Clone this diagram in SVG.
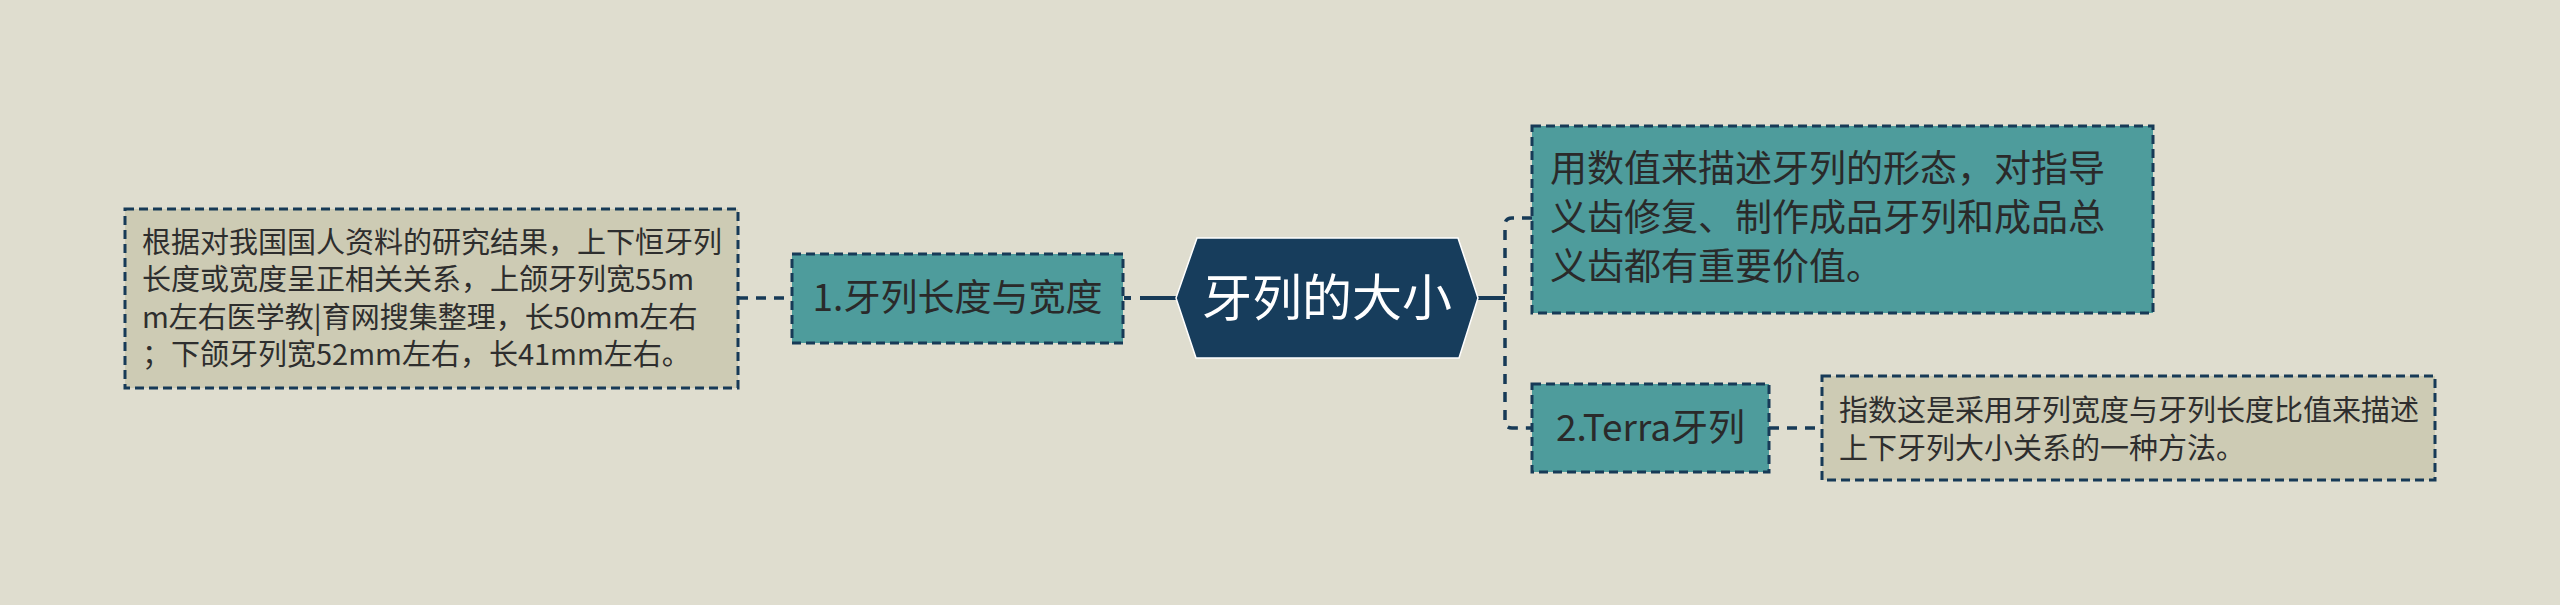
<svg xmlns="http://www.w3.org/2000/svg" width="2560" height="605" viewBox="0 0 2560 605">
<style>
text{font-family:"Noto Sans CJK SC","Noto Sans",sans-serif;}
.box{stroke:#173a57;stroke-width:3;stroke-dasharray:9 5;}
.teal{fill:#4e9c9c;}
.beige{fill:#cdcbb4;}
.t37{font-size:37px;fill:#2a2a2a;}
.t29{font-size:29px;fill:#2e2e2e;}
.conn{fill:none;stroke:#173a57;stroke-width:4;}
.dash{stroke-dasharray:10 8;stroke-width:3.5;}
</style>
<rect width="2560" height="605" fill="#dfddcf"/>
<g id="connectors">
<path class="conn dash" d="M738,298 H791"/>
<path class="conn" d="M1124,298 H1131 M1140,298 H1177"/>
<path class="conn" d="M1478,298 H1505"/>
<path class="conn dash" d="M1532,218 H1512 Q1505,218 1505,225 V421 Q1505,428 1512,428 H1531"/>
<path class="conn dash" d="M1769,428 H1822"/>
</g>
<g id="center">
<polygon points="1176,298 1197,238 1458,238 1478,298 1459,358 1196,358" fill="#173d5c" stroke="#ffffff" stroke-width="1.5"/>
<text x="1327" y="316" font-size="50" fill="#ffffff" text-anchor="middle">牙列的大小</text>
</g>
<g id="node1">
<rect class="box teal" x="792" y="254" width="331" height="89"/>
<text class="t37" x="957.5" y="311" text-anchor="middle">1.牙列长度与宽度</text>
</g>
<g id="detail1">
<rect class="box beige" x="125" y="209" width="613" height="179"/>
<text class="t29" x="142" y="253">根据对我国国人资料的研究结果，上下恒牙列</text>
<text class="t29" x="142" y="290">长度或宽度呈正相关关系，上颌牙列宽55m</text>
<text class="t29" x="142" y="328">m左右医学教|育网搜集整理，长50mm左右</text>
<text class="t29" x="142" y="365">；下颌牙列宽52mm左右，长41mm左右。</text>
</g>
<g id="detail0">
<rect class="box teal" x="1532" y="126" width="621" height="187"/>
<text class="t37" x="1550" y="182">用数值来描述牙列的形态，对指导</text>
<text class="t37" x="1550" y="231">义齿修复、制作成品牙列和成品总</text>
<text class="t37" x="1550" y="280">义齿都有重要价值。</text>
</g>
<g id="node2">
<rect class="box teal" x="1532" y="384" width="237" height="88"/>
<text class="t37" x="1650.5" y="441" text-anchor="middle">2.Terra牙列</text>
</g>
<g id="detail2">
<rect class="box beige" x="1822" y="376" width="613" height="104"/>
<text class="t29" x="1839" y="421">指数这是采用牙列宽度与牙列长度比值来描述</text>
<text class="t29" x="1839" y="459">上下牙列大小关系的一种方法。</text>
</g>
</svg>
